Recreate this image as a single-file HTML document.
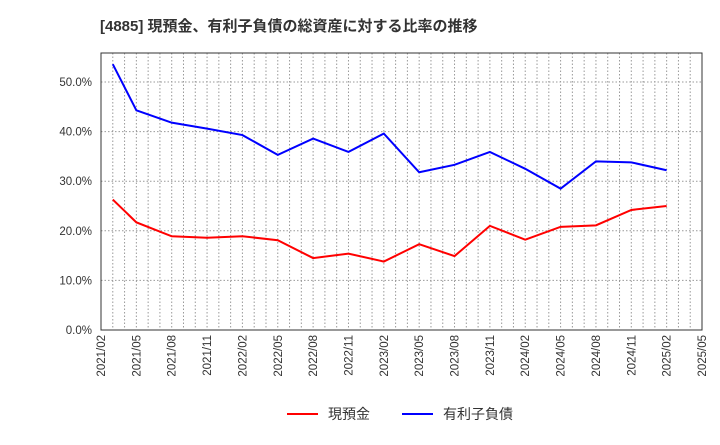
<!DOCTYPE html>
<html><head><meta charset="utf-8"><style>
body{margin:0;background:#fff;font-family:"Liberation Sans","Noto Sans CJK JP",sans-serif;}
</style></head><body>
<svg id="c" width="720" height="440" xmlns="http://www.w3.org/2000/svg"></svg>
<script>
const xTicks=["2021/02","2021/05","2021/08","2021/11","2022/02","2022/05","2022/08","2022/11","2023/02","2023/05","2023/08","2023/11","2024/02","2024/05","2024/08","2024/11","2025/02","2025/05"];
const yTicks=[0,10,20,30,40,50];
const months=[1,3,6,9,12,15,18,21,24,27,30,33,36,39,42,45,48];
const cash=[26.3,21.7,18.9,18.6,18.9,18.1,14.5,15.4,13.8,17.3,14.9,21.0,18.2,20.8,21.1,24.2,25.0];
const debt=[53.6,44.3,41.8,40.6,39.3,35.3,38.6,35.9,39.6,31.8,33.3,35.9,32.5,28.5,34.0,33.8,32.2];
const L=101,R=702,T=53,B=330;
const x=m=>L+(R-L)*m/51;
const y=v=>B-v*4.96;
const s=document.getElementById('c');const NS="http://www.w3.org/2000/svg";
function mk(t,a,txt){const e=document.createElementNS(NS,t);for(const k in a)e.setAttribute(k,a[k]);if(txt!=null)e.textContent=txt;s.appendChild(e);return e;}
let e;
e=mk('text',{x:100,y:31,'font-size':15,'font-weight':'bold',fill:'#333'},'[4885] 現預金、有利子負債の総資産に対する比率の推移');


for(let m=1;m<51;m++){
e=mk('line',{x1:x(m),x2:x(m),y1:T,y2:B,stroke:'#999','stroke-dasharray':'1.5,2','stroke-width':1});


}
yTicks.forEach(v=>{
if(v>0){e=mk('line',{x1:L,x2:R,y1:y(v),y2:y(v),stroke:'#999','stroke-dasharray':'1.5,2'});

}
e=mk('text',{x:92,y:y(v)+4,'text-anchor':'end','font-size':11.5,fill:'#333'},v.toFixed(1)+'%');


});
xTicks.forEach((t,i)=>{
const xx=x(i*3);
e=mk('text',{x:xx+4,y:B+5,'text-anchor':'end','font-size':11.5,fill:'#333',transform:`rotate(-90 ${xx+4} ${B+5})`},t);


});
e=mk('rect',{x:L,y:T,width:R-L,height:B-T,fill:'none',stroke:'#333'});


function line(d,c,n){e=mk('polyline',{points:d.map((v,i)=>x(months[i])+','+y(v)).join(' '),fill:'none',stroke:c,'stroke-width':2});

}
line(cash,'#f00','cash-line');line(debt,'#00f','debt-line');
e=mk('line',{x1:287,x2:318,y1:414,y2:414,stroke:'#f00','stroke-width':2});


e=mk('text',{x:328,y:419,'font-size':14,fill:'#333'},'現預金');


e=mk('line',{x1:402,x2:433,y1:414,y2:414,stroke:'#00f','stroke-width':2});


e=mk('text',{x:443,y:419,'font-size':14,fill:'#333'},'有利子負債');


</script>
</body></html>
